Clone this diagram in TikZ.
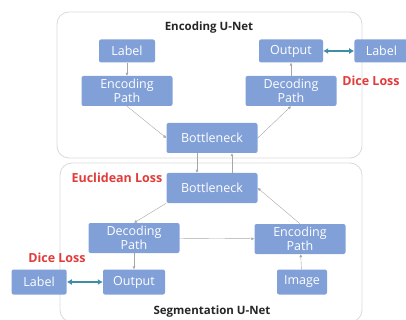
\documentclass[tikz,border=0pt]{standalone}
\usepackage{fontspec}
\setmainfont{Open Sans}
\usetikzlibrary{positioning}
\usetikzlibrary{arrows.meta}
\definecolor{boxblue}{HTML}{82A0D8}
\definecolor{pairteal}{HTML}{3E8FA6}
\definecolor{lossred}{HTML}{E23B3B}
\tikzset{
  box/.style            = { rectangle, rounded corners=2pt, fill=boxblue, text=white, inner sep=0pt },
  small/.style          = { box, minimum width=56pt, minimum height=23pt, font=\fontsize{12.5}{12.5}\selectfont },
  wide/.style           = { box, minimum width=91pt, minimum height=30pt, align=center, font=\fontsize{12.5}{13.5}\selectfont },
  frame/.style          = { draw=black!15, rounded corners=12pt, thick },
}
\tikzset{
  relation/.style       = { draw=black!35, thin, -{Latex[length=3pt,width=3pt]} },
  pairing/.style        = { draw=pairteal, very thick, {Latex[length=5pt,width=6pt]}-{Latex[length=5pt,width=6pt]} },
  loss/.style           = { text=lossred, font=\bfseries\fontsize{12.5}{12.5}\selectfont, inner sep=0pt },
  title/.style          = { text=black!85, font=\bfseries\fontsize{11.5}{12}\selectfont, inner sep=0pt }
}

\begin{document}
\begin{tikzpicture}[x=1pt, y=-1pt, node distance=6mm]
  \useasboundingbox (0,0) rectangle (406,320);
  % the two networks
  \draw [frame] (57,12)  rectangle (362,158);
  \draw [frame] (60,163) rectangle (362,322);
  \node (enctitle) [title] at (209,28)  {Encoding U-Net};
  \node (segtitle) [title] at (212,312) {Segmentation U-Net};

  % encoding u-net
  \node (enclabel)  [small]                 at (127,51)  {Label};
  \node (encpath)   [wide]                  at (127,91)  {Encoding\\Path};
  \node (encbottle) [wide]                  at (212,138) {Bottleneck};
  \node (encdec)    [wide]                  at (291,91)  {Decoding\\Path};
  \node (encout)    [small,minimum width=64pt] at (291,51) {Output};
  \node (encgt)     [small,minimum width=54pt,right=31pt of encout] {Label};
  \node (topdice)   [loss]                  at (371,81)  {Dice Loss};

  % segmentation u-net
  \node (segbottle) [wide]                  at (212,188) {Bottleneck};
  \node (euclid)    [loss]                  at (117,178) {Euclidean Loss};
  \node (segdec)    [wide]                  at (134,238) {Decoding\\Path};
  \node (segenc)    [wide]                  at (300,239) {Encoding\\Path};
  \node (segout)    [small,minimum width=62pt,minimum height=25pt] at (134,282) {Output};
  \node (seggt)     [small,minimum width=55pt,minimum height=25pt,left=36pt of segout] {Label};
  \node (segimg)    [small,minimum width=50pt,minimum height=25pt] at (302,282) {Image};
  \node (botdice)   [loss]                  at (57,258)  {Dice Loss};

  \draw [relation] (enclabel)  -- (encpath);
  \draw [relation] (encpath.south) -- (encbottle.west);
  \draw [relation] (encbottle.east) -- (encdec.south);
  \draw [relation] (encdec)    -- (encout);
  \draw [pairing]  (encout)    -- (encgt);

  \draw [relation] ([xshift=-15pt]encbottle.south) -- ([xshift=-15pt]segbottle.north);
  \draw [relation] ([xshift=20pt]segbottle.north)  -- ([xshift=20pt]encbottle.south);

  \draw [relation] (segbottle.south west) -- (segdec.north);
  \draw [relation] (segenc.north) -- (segbottle.east);
  \draw [relation] (segdec)    -- (segenc);
  \draw [relation] (segdec)    -- (segout);
  \draw [relation] (segimg)    -- (segenc);
  \draw [pairing]  (seggt)     -- (segout);
\end{tikzpicture}
\end{document}
